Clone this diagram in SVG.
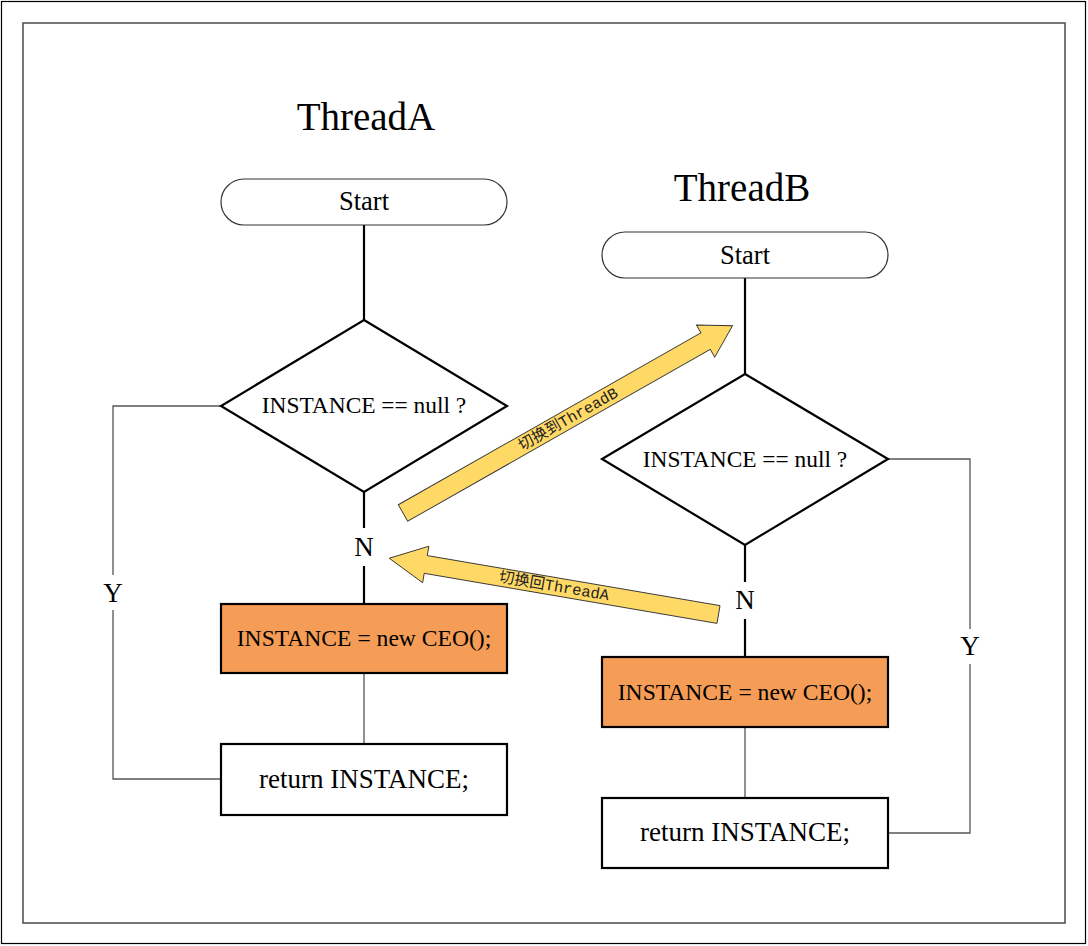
<svg xmlns="http://www.w3.org/2000/svg" width="1088" height="946" viewBox="0 0 1088 946">
<style>
.t{font-family:"Liberation Serif","Times New Roman",serif;fill:#000;text-anchor:middle}
.title{font-size:39px}
.st{font-size:26.5px}
.d{font-size:23.4px}
.b{font-size:23.6px}
.r{font-size:27px}
.yn{font-size:27px}
.shape{fill:#fff;stroke:#000;stroke-width:2.2}
.term{fill:#fff;stroke:#333;stroke-width:1.2}
.orange{fill:#F59D56;stroke:#000;stroke-width:2.2}
.thick{stroke:#000;stroke-width:2.2;fill:none}
.thin{stroke:#555;stroke-width:1.3;fill:none}
.arrow{fill:#FFD966;stroke:#333;stroke-width:0.9}
.lab{font-family:"Liberation Mono","Noto Sans CJK SC",monospace;font-size:15.5px;fill:#222;text-anchor:middle}
</style>
<rect x="0" y="0" width="1088" height="946" fill="#fff"/>
<rect x="1.5" y="1.5" width="1084" height="942" fill="none" stroke="#000" stroke-width="1.2"/>
<rect x="23" y="23" width="1042" height="900" fill="none" stroke="#555" stroke-width="1.6"/>

<g id="connectors">
  <line class="thick" x1="364" y1="225" x2="364" y2="320"/>
  <line class="thick" x1="364" y1="492" x2="364" y2="528"/>
  <line class="thick" x1="364" y1="566" x2="364" y2="604"/>
  <line class="thin" x1="364" y1="673" x2="364" y2="744"/>
  <polyline class="thin" points="221,406 113,406 113,575"/>
  <polyline class="thin" points="113,610 113,779 221,779"/>
  <line class="thick" x1="745" y1="278" x2="745" y2="374"/>
  <line class="thick" x1="745" y1="545" x2="745" y2="582"/>
  <line class="thick" x1="745" y1="619" x2="745" y2="657"/>
  <line class="thin" x1="745" y1="727" x2="745" y2="798"/>
  <polyline class="thin" points="888,459 970,459 970,629"/>
  <polyline class="thin" points="970,664 970,833 888,833"/>
</g>

<g id="labelsYN">
  <text class="t yn" x="364" y="556">N</text>
  <text class="t yn" x="113" y="602">Y</text>
  <text class="t yn" x="745" y="609">N</text>
  <text class="t yn" x="970" y="655">Y</text>
</g>

<g id="titleA"><text class="t title" x="366" y="130">ThreadA</text></g>
<g id="titleB"><text class="t title" x="742" y="201">ThreadB</text></g>

<g id="startA">
  <rect class="term" x="221" y="179" width="286" height="46" rx="23"/>
  <text class="t st" x="364" y="210">Start</text>
</g>
<g id="decisionA">
  <polygon class="shape" points="364,320 507,406 364,492 221,406"/>
  <text class="t d" x="364" y="413">INSTANCE == null ?</text>
</g>
<g id="newA">
  <rect class="orange" x="221" y="604" width="286" height="69"/>
  <text class="t b" x="364" y="646">INSTANCE = new CEO();</text>
</g>
<g id="returnA">
  <rect class="shape" x="221" y="744" width="286" height="71"/>
  <text class="t r" x="364" y="788">return INSTANCE;</text>
</g>

<g id="startB">
  <rect class="term" x="602" y="232" width="286" height="46" rx="23"/>
  <text class="t st" x="745" y="264">Start</text>
</g>
<g id="decisionB">
  <polygon class="shape" points="745,374 888,459 745,545 602,459"/>
  <text class="t d" x="745" y="467">INSTANCE == null ?</text>
</g>
<g id="newB">
  <rect class="orange" x="602" y="657" width="286" height="70"/>
  <text class="t b" x="745" y="700">INSTANCE = new CEO();</text>
</g>
<g id="returnB">
  <rect class="shape" x="602" y="798" width="286" height="70"/>
  <text class="t r" x="745" y="841">return INSTANCE;</text>
</g>

<g id="switchToB">
  <polygon class="arrow" transform="translate(403,513) rotate(-29.6)" points="0,-9.5 348,-9.5 348,-18.5 379,0 348,18.5 348,9.5 0,9.5"/>
  <text class="lab" transform="translate(568,419) rotate(-29.6)" y="5">切换到ThreadB</text>
</g>
<g id="switchToA">
  <polygon class="arrow" transform="translate(718.5,614.5) rotate(189.7)" points="0,-9 297,-9 297,-18.5 334,0 297,18.5 297,9 0,9"/>
  <text class="lab" transform="translate(554,586) rotate(9.7)" y="5">切换回ThreadA</text>
</g>
</svg>
